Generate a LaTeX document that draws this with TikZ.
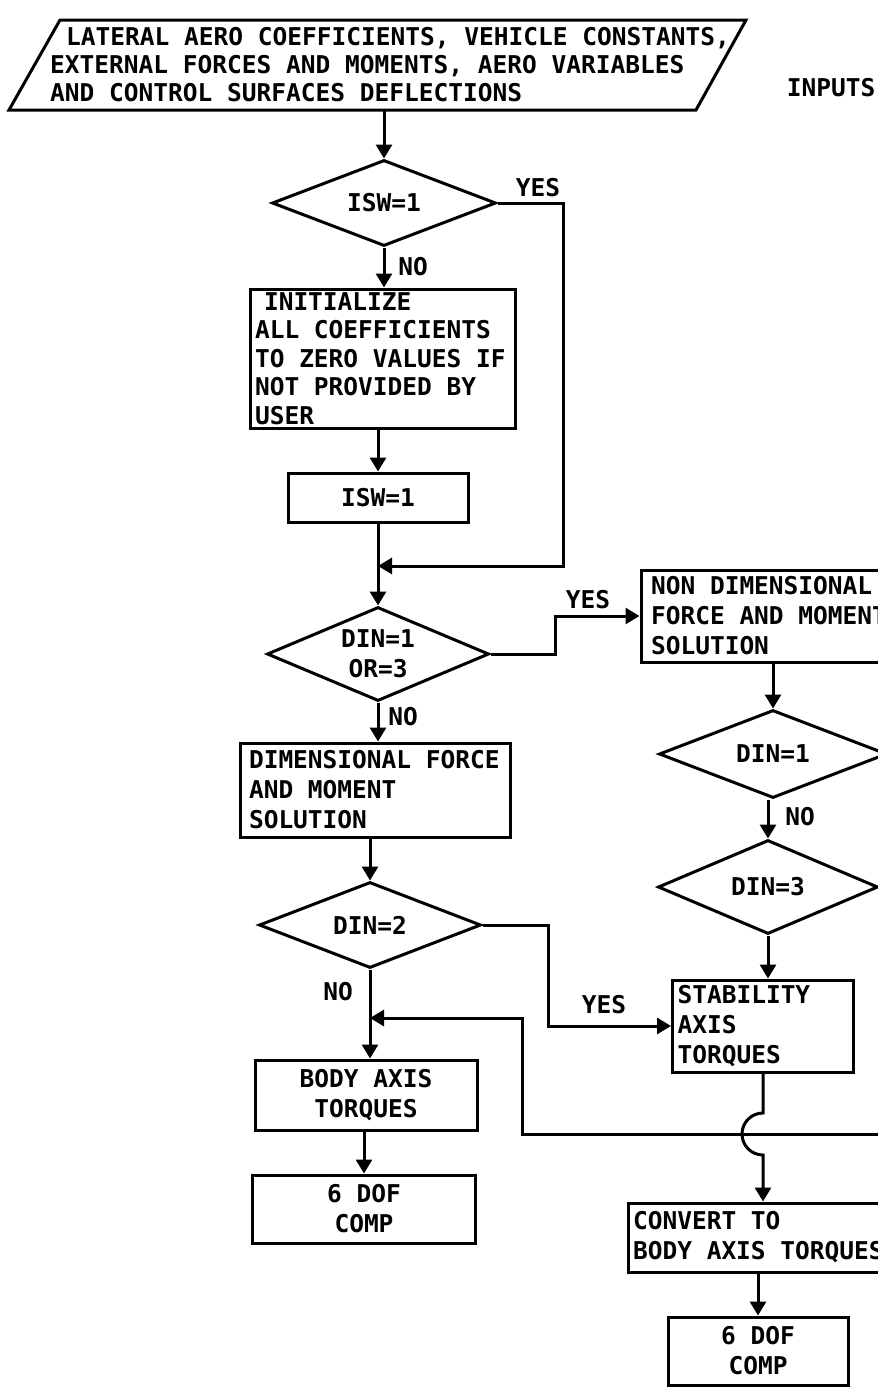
\documentclass[tikz,border=0pt]{standalone}
\usepackage{fontspec}
\setmainfont{DejaVu Sans Mono}
\usetikzlibrary{arrows.meta,shapes.geometric}
\newcommand\fixsp{\spaceskip=0pt\xspaceskip=0pt\relax}
\begin{document}
\begin{tikzpicture}[x=1pt,y=-1pt,
  lw/.style={line width=3pt},
  txt/.style={font=\fontsize{24.5}{30}\selectfont\bfseries},
  box/.style={lw, draw, txt, rectangle, inner ysep=0pt},
  dec/.style={lw, draw, txt, diamond, aspect=2.4, inner sep=0pt, align=center},
  lab/.style={txt, inner sep=0pt},
  arr/.style={lw, -{Triangle[length=14pt,width=16pt]}}
]
\useasboundingbox (0,0) rectangle (878,1390);
\fill[white] (0,0) rectangle (878,1390);
\clip (0,0) rectangle (878,1390);

% input parallelogram
\draw[lw, line join=miter] (60,20) -- (746,20) -- (696,110) -- (9,110) -- cycle;
\node[lab, anchor=west, align=left, minimum height=90pt, font=\fontsize{24.5}{28}\selectfont\bfseries] (inp) at (50,65)
  {\hspace*{16pt}LATERAL AERO COEFFICIENTS, VEHICLE CONSTANTS,\\EXTERNAL FORCES AND MOMENTS, AERO VARIABLES\\AND CONTROL SURFACES DEFLECTIONS};
\node[lab] (inputs) at (831,88) {INPUTS};

% left column
\node[dec, minimum width=224pt, minimum height=86pt] (dIsw) at (384,203) {ISW=1};
\node[box, minimum width=265pt, minimum height=139pt, text width=255pt, inner xsep=5pt, align=left,
      font=\fontsize{24.5}{28.5}\selectfont\bfseries] (init) at (382.5,358.5)
  {\fixsp\hspace*{9pt}INITIALIZE\\ALL COEFFICIENTS\\TO ZERO VALUES IF\\NOT PROVIDED BY\\USER};
\node[box, minimum width=180pt, minimum height=49pt] (isw) at (378,497.5) {ISW=1};
\node[dec, minimum width=222pt, minimum height=94pt] (dDin) at (378,654) {DIN=1\\OR=3};
\node[box, minimum width=270pt, minimum height=94pt, text width=256pt, inner xsep=7pt, align=left] (dim) at (375,790)
  {\fixsp\hspace*{2pt}DIMENSIONAL FORCE\\\hspace*{2pt}AND MOMENT\\\hspace*{2pt}SOLUTION};
\node[dec, minimum width=222pt, minimum height=86pt] (dDin2) at (370,925) {DIN=2};
\node[box, minimum width=222pt, minimum height=70pt, align=center] (body) at (366,1095) {BODY AXIS\\TORQUES};
\node[box, minimum width=223pt, minimum height=68pt, align=center] (dof1) at (364,1209) {6 DOF\\COMP};

% right column
\node[box, minimum width=260pt, minimum height=92pt, text width=240pt, inner xsep=10pt, align=left] (nondim) at (771,616)
  {\fixsp NON DIMENSIONAL\\FORCE AND MOMENT\\SOLUTION};
\node[dec, minimum width=228pt, minimum height=88pt] (dN1) at (773,754) {DIN=1};
\node[dec, minimum width=220pt, minimum height=94pt] (dN3) at (768,887) {DIN=3};
\node[box, minimum width=181pt, minimum height=92pt, text width=171pt, inner xsep=5pt, align=left] (stab) at (763,1026)
  {\fixsp STABILITY\\AXIS\\TORQUES};
\node[box, minimum width=272pt, minimum height=69pt, text width=262pt, inner xsep=5pt, align=left] (conv) at (764,1237.5)
  {\fixsp CONVERT TO\\BODY AXIS TORQUES};
\node[box, minimum width=180pt, minimum height=68pt, align=center] (dof2) at (758,1351) {6 DOF\\COMP};

% connectors
\draw[arr] (dIsw.north |- inp.south) -- (dIsw.north);
\draw[arr] (dIsw.south) -- (dIsw.south |- init.north);
\draw[arr] (isw.north |- init.south) -- (isw.north);
\draw[arr] (isw.south) -- (dDin.north);
\coordinate (c1) at (563,566);
\draw[arr] (dIsw.east) -| (c1) -- (c1 -| dDin.north);
\draw[arr] (dDin.south) -- (dDin.south |- dim.north);
\draw[arr] (dDin.east) -- ++(65,0) |- (nondim.west);
\draw[arr] (dDin2.north |- dim.south) -- (dDin2.north);
\draw[arr] (dDin2.south) -- (dDin2.south |- body.north);
\draw[arr] (dDin2.east) -- ++(66,0) |- (stab.west);
\coordinate (r1) at (885,1134);
\coordinate (c2) at (522,1134);
\coordinate (c3) at (522,1018);
\draw[arr] (r1) -- (c2) -- (c3) -- (c3 -| dDin2.south);
\draw[arr] (dof1.north |- body.south) -- (dof1.north);
\draw[arr] (dN1.north |- nondim.south) -- (dN1.north);
\draw[arr] (dN3.north |- dN1.south) -- (dN3.north);
\draw[arr] (dN3.south) -- (dN3.south |- stab.north);
\draw[arr] (stab.south) -- ([yshift=21pt]stab.south |- r1) arc[start angle=90, end angle=270, radius=21pt] -- (stab.south |- conv.north);
\draw[arr] (dof2.north |- conv.south) -- (dof2.north);

% labels
\node[lab] (yes1) at (538,188) {YES};
\node[lab] (no1) at (413,267) {NO};
\node[lab] (yes2) at (588,600) {YES};
\node[lab] (no2) at (403,717) {NO};
\node[lab] (no3) at (800,817) {NO};
\node[lab] (no4) at (338,992) {NO};
\node[lab] (yes3) at (604,1005) {YES};
\end{tikzpicture}
\end{document}
